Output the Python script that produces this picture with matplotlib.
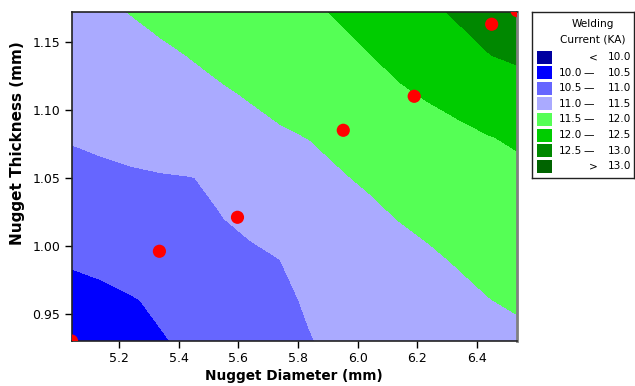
import numpy as np
import matplotlib
matplotlib.use("Agg")
import matplotlib.pyplot as plt
from matplotlib.patches import Rectangle

# -----------------------
# Data
# -----------------------
# grid nodes of the fitted surface
diam_grid = [5.04, 5.14, 5.24, 5.34, 5.44, 5.54, 5.64, 5.74,
             5.84, 5.94, 6.04, 6.14, 6.24, 6.34, 6.44, 6.54]
thick_grid = [0.93, 0.96, 0.99, 1.02, 1.05, 1.08, 1.11, 1.14, 1.172]

# welding current (KA) at the grid nodes, one row per thickness
current = [
    [10.17, 10.27, 10.37, 10.47, 10.57, 10.68, 10.78, 10.88, 10.99, 11.05, 11.11, 11.17, 11.23, 11.28, 11.34, 11.40],
    [10.27, 10.37, 10.47, 10.57, 10.66, 10.76, 10.85, 10.95, 11.03, 11.11, 11.19, 11.26, 11.34, 11.41, 11.49, 11.56],
    [10.57, 10.63, 10.69, 10.75, 10.81, 10.88, 10.94, 11.00, 11.09, 11.18, 11.27, 11.36, 11.45, 11.53, 11.62, 11.71],
    [10.72, 10.77, 10.83, 10.88, 10.93, 10.99, 11.07, 11.15, 11.24, 11.33, 11.42, 11.51, 11.58, 11.66, 11.74, 11.82],
    [10.87, 10.90, 10.94, 10.97, 10.99, 11.06, 11.17, 11.28, 11.37, 11.47, 11.55, 11.63, 11.70, 11.78, 11.85, 11.93],
    [11.03, 11.09, 11.15, 11.21, 11.27, 11.33, 11.39, 11.45, 11.51, 11.59, 11.67, 11.75, 11.83, 11.91, 11.99, 12.04],
    [11.14, 11.20, 11.26, 11.33, 11.39, 11.45, 11.52, 11.61, 11.69, 11.78, 11.86, 11.94, 12.03, 12.12, 12.20, 12.29],
    [11.25, 11.31, 11.38, 11.44, 11.51, 11.59, 11.67, 11.75, 11.83, 11.91, 11.99, 12.11, 12.24, 12.37, 12.49, 12.57],
    [11.37, 11.44, 11.51, 11.59, 11.66, 11.73, 11.80, 11.87, 11.95, 12.03, 12.16, 12.30, 12.43, 12.55, 12.65, 12.75],
]

# measured design points
pt_diam = [5.04, 5.335, 5.597, 5.952, 6.19, 6.45, 6.535]
pt_thick = [0.930, 0.996, 1.021, 1.085, 1.110, 1.163, 1.173]

levels = [0.0, 10.0, 10.5, 11.0, 11.5, 12.0, 12.5, 13.0, 99.0]
band_colors = ["#0000A0", "#0000FF", "#6666FF", "#AAAAFF",
               "#55FF55", "#00CC00", "#008800", "#006400"]
band_labels = [("<", "10.0"), ("10.0", "10.5"), ("10.5", "11.0"), ("11.0", "11.5"),
               ("11.5", "12.0"), ("12.0", "12.5"), ("12.5", "13.0"), (">", "13.0")]

# -----------------------
# Plot
# -----------------------
W, H = 635, 386
fig = plt.figure(figsize=(W / 100, H / 100), dpi=100)
ax = fig.add_axes([71.5 / W, 1 - 341 / H, (517 - 71.5) / W, (341 - 12) / H])

X, Y = np.meshgrid(diam_grid, thick_grid)
ax.contourf(X, Y, np.array(current), levels=levels, colors=band_colors)
ax.scatter(pt_diam, pt_thick, s=90, c="#FF0000", edgecolors="none", zorder=5)

ax.set_xlim(5.04, 6.535)
ax.set_ylim(0.930, 1.172)
ax.set_xticks([5.2, 5.4, 5.6, 5.8, 6.0, 6.2, 6.4])
ax.set_yticks([0.95, 1.00, 1.05, 1.10, 1.15])
ax.xaxis.set_major_formatter(matplotlib.ticker.FormatStrFormatter("%.1f"))
ax.yaxis.set_major_formatter(matplotlib.ticker.FormatStrFormatter("%.2f"))
ax.tick_params(direction="out", length=5, width=1, labelsize=9, pad=3)

ax.set_xlabel("Nugget Diameter (mm)", fontsize=9.8, fontweight="bold", labelpad=3)
ax.set_ylabel("Nugget Thickness (mm)", fontsize=11, fontweight="bold")
ax.yaxis.set_label_coords((25 - 71.5) / 445.5, (341 - 143) / 329)

for side in ["left", "bottom", "top"]:
    ax.spines[side].set_color("#222222")
    ax.spines[side].set_linewidth(1.2)
ax.spines["right"].set_color("#808080")
ax.spines["right"].set_linewidth(2)

# -----------------------
# Legend box (pixel units inside its own axes)
# -----------------------
lx0, ly0, lw, lh = 532, 12, 102, 166
lax = fig.add_axes([lx0 / W, 1 - (ly0 + lh) / H, lw / W, lh / H])
lax.set_xlim(0, lw)
lax.set_ylim(lh, 0)
lax.set_xticks([])
lax.set_yticks([])
for sp in lax.spines.values():
    sp.set_color("#222222")
    sp.set_linewidth(1)

fs = 7.6
lax.text(61, 12, "Welding", ha="center", va="center", fontsize=fs)
lax.text(61, 28, "Current (KA)", ha="center", va="center", fontsize=fs)

for i, (col, (lo, hi)) in enumerate(zip(band_colors, band_labels)):
    yc = 45 + i * 15.6
    lax.add_patch(Rectangle((5, yc - 6.5), 15, 13, facecolor=col, edgecolor="none"))
    if lo in ("<", ">"):
        lax.text(61, yc, lo, ha="center", va="center", fontsize=fs)
    else:
        lax.text(27, yc, lo, ha="left", va="center", fontsize=fs)
        lax.text(57, yc, "\u2014", ha="center", va="center", fontsize=fs)
    lax.text(99, yc, hi, ha="right", va="center", fontsize=fs)

fig.savefig("out.png", dpi=100)
